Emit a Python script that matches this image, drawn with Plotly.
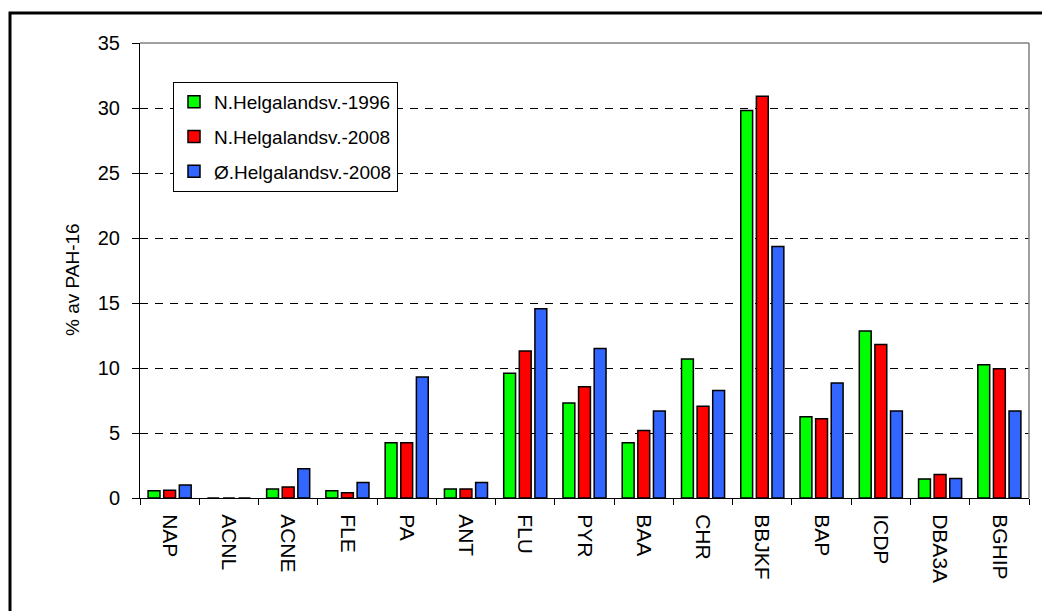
import plotly.graph_objects as go

categories = ["NAP", "ACNL", "ACNE", "FLE", "PA", "ANT", "FLU", "PYR", "BAA", "CHR",
              "BBJKF", "BAP", "ICDP", "DBA3A", "BGHIP"]
series_names = ["N.Helgalandsv.-1996", "N.Helgalandsv.-2008", "Ø.Helgalandsv.-2008"]
n_1996 = [0.55, 0, 0.7, 0.55, 4.25, 0.7, 9.6, 7.3, 4.25, 10.7, 29.8, 6.25, 12.85, 1.47, 10.25]
n_2008 = [0.6, 0, 0.85, 0.4, 4.25, 0.7, 11.3, 8.55, 5.2, 7.05, 30.9, 6.1, 11.8, 1.8, 9.95]
o_2008 = [1.0, 0, 2.25, 1.2, 9.3, 1.2, 14.55, 11.5, 6.7, 8.27, 19.35, 8.85, 6.7, 1.5, 6.7]
colors = ["#00FF00", "#FF0000", "#3366FF"]
y_ticks = [0, 5, 10, 15, 20, 25, 30, 35]
y_title = "% av PAH-16"

FONT = "Liberation Sans, Arial, sans-serif"

fig = go.Figure()
for i, (name, vals) in enumerate(zip(series_names, [n_1996, n_2008, o_2008])):
    fig.add_trace(go.Bar(
        x=categories, y=vals, name=name, legendgroup=name,
        marker=dict(color=colors[i], line=dict(color="black", width=1.5)),
    ))

OFF = 8  # page body margin offset
W, H = 1050, 611
PL, PR, PT, PB = 140, 1029, 43, 498  # target plot area in screen pixels
L = PL - OFF
T = PT - OFF
R = W - (PR - OFF)
B = H - (PB - OFF)
pw = PR - PL
ph = PB - PT

def px_x(p):
    return (p - PL) / pw

def px_y(p):
    return 1 - (p - PT) / ph

fig.update_layout(
    width=W, height=H,
    margin=dict(l=L, r=R, t=T, b=B, pad=0),
    paper_bgcolor="white", plot_bgcolor="white",
    barmode="group", bargap=0.21, bargroupgap=0.24,
    font=dict(family=FONT, size=19, color="black"),
    showlegend=True,
    legend=dict(
        x=px_x(173), y=px_y(82), xanchor="left", yanchor="top",
        bordercolor="black", borderwidth=1, bgcolor="white",
        font=dict(family=FONT, size=19, color="black"),
        tracegroupgap=7, itemwidth=30,
    ),
    xaxis=dict(
        type="category", tickangle=90, showline=True, linecolor="black", linewidth=1,
        ticks="outside", tickson="boundaries", ticklen=6, tickcolor="black",
        showgrid=False, tickfont=dict(family=FONT, size=21), ticklabelstandoff=11,
    ),
    yaxis=dict(
        range=[0, 35], tickvals=y_ticks, showline=True, linecolor="black", linewidth=1,
        ticks="outside", ticklen=7, tickcolor="black",
        showgrid=True, gridcolor="black", gridwidth=1, griddash="8px,7px",
        zeroline=False, tickfont=dict(family=FONT, size=20), ticklabelstandoff=8,
    ),
    annotations=[
        dict(text=y_title, xref="paper", yref="paper", x=px_x(72), y=px_y(280),
             xanchor="center", yanchor="middle", textangle=-90, showarrow=False,
             font=dict(family=FONT, size=19, color="black")),
    ],
    shapes=[
        dict(type="line", xref="paper", yref="paper", x0=0, x1=1, y0=1, y1=1,
             line=dict(color="#808080", width=1.5)),
        dict(type="line", xref="paper", yref="paper", x0=1, x1=1, y0=0, y1=1,
             line=dict(color="#808080", width=1.5)),
        dict(type="rect", xref="paper", yref="paper",
             x0=px_x(10), x1=px_x(1070), y0=px_y(640), y1=px_y(13),
             line=dict(color="black", width=3)),
    ],
)

fig.write_html("out.html")
